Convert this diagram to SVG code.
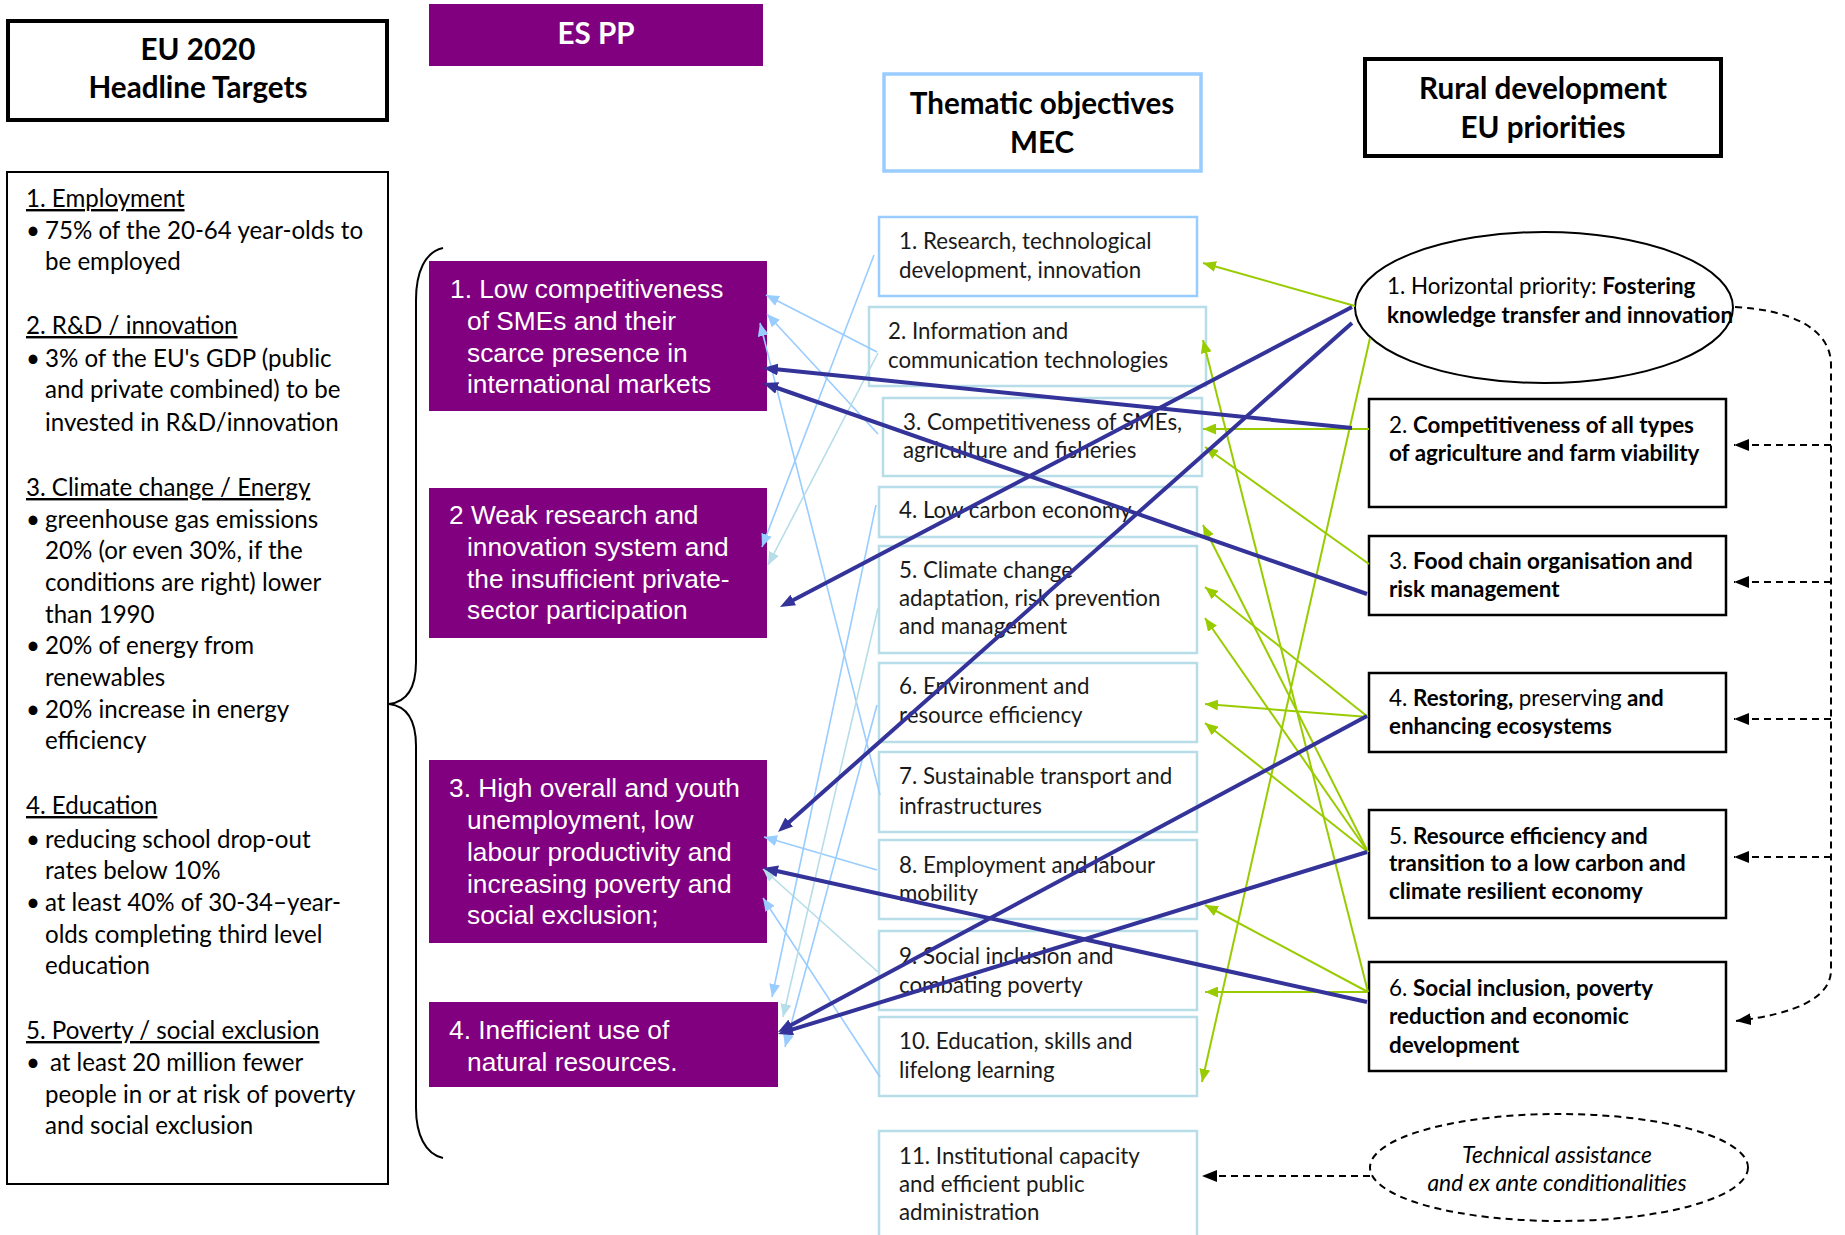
<svg xmlns="http://www.w3.org/2000/svg" width="1845" height="1235" viewBox="0 0 1845 1235">
<style>
.hdr{font-family:Lato,"Liberation Sans",sans-serif;font-weight:bold;font-size:29.6px;text-anchor:middle;fill:#000}
.tgt{font-family:Lato,"Liberation Sans",sans-serif;font-size:24.1px;fill:#000}
.u{text-decoration:underline}
.pp{font-family:"Liberation Sans",Arial,sans-serif;font-size:26.3px;fill:#fff}
.to{font-family:Lato,"Liberation Sans",sans-serif;font-size:22.3px;fill:#1a1a1a}
.rd{font-family:Lato,"Liberation Sans",sans-serif;font-size:22.4px;fill:#000}
.b{font-weight:bold}
.ta{font-family:Lato,"Liberation Sans",sans-serif;font-size:22.8px;font-style:italic;text-anchor:middle;fill:#000}
.purple{fill:#800080}
.toA{fill:#fff;stroke:#99CCFF;stroke-width:2.5}
.toB{fill:#fff;stroke:#B7DDE8;stroke-width:2.5}
.rdbox{fill:#fff;stroke:#000;stroke-width:2.5}
.lb{stroke:#99CCFF;stroke-width:1.6;fill:none;marker-end:url(#mLB)}
.tl{stroke:#B7DDE8;stroke-width:1.6;fill:none;marker-end:url(#mTL)}
.db{stroke:#333399;stroke-width:4;fill:none;marker-end:url(#mDB)}
.gr{stroke:#99CC00;stroke-width:2;fill:none;marker-end:url(#mGR)}
.dash{stroke:#000;stroke-width:2;fill:none;stroke-dasharray:7 5}
.dasharr{stroke:#000;stroke-width:2;fill:none;stroke-dasharray:7 5;marker-end:url(#mBK)}
</style>
<defs>
<marker id="mDB" viewBox="0 0 15 12" refX="9" refY="6" markerWidth="15" markerHeight="12" markerUnits="userSpaceOnUse" orient="auto"><path d="M0,0 L15,6 L0,12 z" fill="#333399"/></marker>
<marker id="mGR" viewBox="0 0 13 11" refX="13" refY="5.5" markerWidth="13" markerHeight="11" markerUnits="userSpaceOnUse" orient="auto"><path d="M0,0 L13,5.5 L0,11 z" fill="#99CC00"/></marker>
<marker id="mLB" viewBox="0 0 13 11" refX="13" refY="5.5" markerWidth="13" markerHeight="11" markerUnits="userSpaceOnUse" orient="auto"><path d="M0,0 L13,5.5 L0,11 z" fill="#99CCFF"/></marker>
<marker id="mTL" viewBox="0 0 13 11" refX="13" refY="5.5" markerWidth="13" markerHeight="11" markerUnits="userSpaceOnUse" orient="auto"><path d="M0,0 L13,5.5 L0,11 z" fill="#B7DDE8"/></marker>
<marker id="mBK" viewBox="0 0 15 12" refX="15" refY="6" markerWidth="15" markerHeight="12" markerUnits="userSpaceOnUse" orient="auto"><path d="M0,0 L15,6 L0,12 z" fill="#000"/></marker>
</defs>
<rect width="1845" height="1235" fill="#fff"/>

<!-- Left column -->
<g id="eu2020-header">
<rect x="8" y="21" width="379" height="99" fill="#fff" stroke="#000" stroke-width="4"/>
<text class="hdr" x="198" y="60">EU 2020</text>
<text class="hdr" x="198" y="98">Headline Targets</text>
</g>
<g id="eu2020-targets">
<rect x="7" y="172" width="381" height="1012" fill="#fff" stroke="#000" stroke-width="2"/>
<text class="tgt u" x="26" y="207">1. Employment</text>
<text class="tgt" x="26" y="239">•</text><text class="tgt" x="45" y="239">75% of the 20-64 year-olds to</text>
<text class="tgt" x="45" y="270">be employed</text>
<text class="tgt u" x="26" y="334">2. R&amp;D / innovation</text>
<text class="tgt" x="26" y="367">•</text><text class="tgt" x="45" y="367">3% of the EU's GDP (public</text>
<text class="tgt" x="45" y="398">and private combined) to be</text>
<text class="tgt" x="45" y="431">invested in R&amp;D/innovation</text>
<text class="tgt u" x="26" y="496">3. Climate change / Energy</text>
<text class="tgt" x="26" y="528">•</text><text class="tgt" x="45" y="528">greenhouse gas emissions</text>
<text class="tgt" x="45" y="559">20% (or even 30%, if the</text>
<text class="tgt" x="45" y="591">conditions are right) lower</text>
<text class="tgt" x="45" y="623">than 1990</text>
<text class="tgt" x="26" y="654">•</text><text class="tgt" x="45" y="654">20% of energy from</text>
<text class="tgt" x="45" y="686">renewables</text>
<text class="tgt" x="26" y="718">•</text><text class="tgt" x="45" y="718">20% increase in energy</text>
<text class="tgt" x="45" y="749">efficiency</text>
<text class="tgt u" x="26" y="814">4. Education</text>
<text class="tgt" x="26" y="848">•</text><text class="tgt" x="45" y="848">reducing school drop-out</text>
<text class="tgt" x="45" y="879">rates below 10%</text>
<text class="tgt" x="26" y="911">•</text><text class="tgt" x="45" y="911">at least 40% of 30-34–year-</text>
<text class="tgt" x="45" y="943">olds completing third level</text>
<text class="tgt" x="45" y="974">education</text>
<text class="tgt u" x="26" y="1039">5. Poverty / social exclusion</text>
<text class="tgt" x="26" y="1071">•</text><text class="tgt" x="50" y="1071">at least 20 million fewer</text>
<text class="tgt" x="45" y="1103">people in or at risk of poverty</text>
<text class="tgt" x="45" y="1134">and social exclusion</text>
</g>
<g id="brace">
<path d="M443,248 C425,252 416,272 416,300 L416,662 C416,690 406,702 389,704 C406,706 416,718 416,746 L416,1108 C416,1134 425,1154 443,1158" fill="none" stroke="#000" stroke-width="2"/>
</g>

<!-- ES PP column -->
<g id="espp-header">
<rect class="purple" x="429" y="4" width="334" height="62"/>
<text class="hdr" x="596" y="44" style="fill:#fff">ES PP</text>
</g>
<g id="espp-1">
<rect class="purple" x="429" y="261" width="338" height="150"/>
<text class="pp" x="450" y="298">1. Low competitiveness</text>
<text class="pp" x="467" y="330">of SMEs and their</text>
<text class="pp" x="467" y="362">scarce presence in</text>
<text class="pp" x="467" y="393">international markets</text>
</g>
<g id="espp-2">
<rect class="purple" x="429" y="488" width="338" height="150"/>
<text class="pp" x="449" y="524">2 Weak research and</text>
<text class="pp" x="467" y="556">innovation system and</text>
<text class="pp" x="467" y="588">the insufficient private-</text>
<text class="pp" x="467" y="619">sector participation</text>
</g>
<g id="espp-3">
<rect class="purple" x="429" y="760" width="338" height="183"/>
<text class="pp" x="449" y="797">3. High overall and youth</text>
<text class="pp" x="467" y="829">unemployment, low</text>
<text class="pp" x="467" y="861">labour productivity and</text>
<text class="pp" x="467" y="893">increasing poverty and</text>
<text class="pp" x="467" y="924">social exclusion;</text>
</g>
<g id="espp-4">
<rect class="purple" x="429" y="1002" width="349" height="85"/>
<text class="pp" x="449" y="1039">4. Inefficient use of</text>
<text class="pp" x="467" y="1071">natural resources.</text>
</g>

<!-- Thematic objectives -->
<g id="to-header">
<rect x="884" y="74" width="317" height="97" fill="#fff" stroke="#99CCFF" stroke-width="3.5"/>
<text class="hdr" x="1042" y="114">Thematic objectives</text>
<text class="hdr" x="1042" y="153">MEC</text>
</g>
<g id="to-1"><rect class="toA" x="879" y="217" width="318" height="79"/>
<text class="to" x="899" y="249">1. Research, technological</text><text class="to" x="899" y="278">development, innovation</text></g>
<g id="to-2"><rect class="toB" x="869" y="307" width="337" height="79"/>
<text class="to" x="888" y="339">2. Information and</text><text class="to" x="888" y="368">communication technologies</text></g>
<g id="to-3"><rect class="toB" x="883" y="398" width="319" height="78"/>
<text class="to" x="903" y="430">3. Competitiveness of SMEs,</text><text class="to" x="903" y="458">agriculture and fisheries</text></g>
<g id="to-4"><rect class="toB" x="879" y="487" width="318" height="50"/>
<text class="to" x="899" y="518">4. Low carbon economy</text></g>
<g id="to-5"><rect class="toB" x="879" y="546" width="318" height="107"/>
<text class="to" x="899" y="578">5. Climate change</text><text class="to" x="899" y="606">adaptation, risk prevention</text><text class="to" x="899" y="634">and management</text></g>
<g id="to-6"><rect class="toB" x="879" y="663" width="318" height="79"/>
<text class="to" x="899" y="694">6. Environment and</text><text class="to" x="899" y="723">resource efficiency</text></g>
<g id="to-7"><rect class="toB" x="879" y="752" width="318" height="80"/>
<text class="to" x="899" y="784">7. Sustainable transport and</text><text class="to" x="899" y="814">infrastructures</text></g>
<g id="to-8"><rect class="toB" x="879" y="840" width="318" height="79"/>
<text class="to" x="899" y="873">8. Employment and labour</text><text class="to" x="899" y="901">mobility</text></g>
<g id="to-9"><rect class="toB" x="879" y="931" width="318" height="79"/>
<text class="to" x="899" y="964">9. Social inclusion and</text><text class="to" x="899" y="993">combating poverty</text></g>
<g id="to-10"><rect class="toB" x="879" y="1017" width="318" height="79"/>
<text class="to" x="899" y="1049">10. Education, skills and</text><text class="to" x="899" y="1078">lifelong learning</text></g>
<g id="to-11"><rect class="toB" x="879" y="1131" width="318" height="130"/>
<text class="to" x="899" y="1164">11. Institutional capacity</text><text class="to" x="899" y="1192">and efficient public</text><text class="to" x="899" y="1220">administration</text></g>

<!-- Rural development -->
<g id="rd-header">
<rect x="1365" y="59" width="356" height="97" fill="#fff" stroke="#000" stroke-width="4"/>
<text class="hdr" x="1543" y="99">Rural development</text>
<text class="hdr" x="1543" y="138">EU priorities</text>
</g>
<g id="rd-1">
<ellipse cx="1544" cy="307.5" rx="189" ry="75.5" fill="#fff" stroke="#000" stroke-width="2"/>
<text class="rd" x="1387" y="294">1. Horizontal priority: <tspan class="b">Fostering</tspan></text>
<text class="rd b" x="1387" y="323">knowledge transfer and innovation</text>
</g>
<g id="rd-2"><rect class="rdbox" x="1369" y="399" width="357" height="108"/>
<text class="rd" x="1389" y="433">2. <tspan class="b">Competitiveness of all types</tspan></text><text class="rd b" x="1389" y="461">of agriculture and farm viability</text></g>
<g id="rd-3"><rect class="rdbox" x="1369" y="536" width="357" height="79"/>
<text class="rd" x="1389" y="569">3. <tspan class="b">Food chain organisation and</tspan></text><text class="rd b" x="1389" y="597">risk management</text></g>
<g id="rd-4"><rect class="rdbox" x="1369" y="673" width="357" height="79"/>
<text class="rd" x="1389" y="706">4. <tspan class="b">Restoring, </tspan>preserving<tspan class="b"> and</tspan></text><text class="rd b" x="1389" y="734">enhancing ecosystems</text></g>
<g id="rd-5"><rect class="rdbox" x="1369" y="810" width="357" height="108"/>
<text class="rd" x="1389" y="844">5. <tspan class="b">Resource efficiency and</tspan></text><text class="rd b" x="1389" y="871">transition to a low carbon and</text><text class="rd b" x="1389" y="899">climate resilient economy</text></g>
<g id="rd-6"><rect class="rdbox" x="1369" y="962" width="357" height="109"/>
<text class="rd" x="1389" y="996">6. <tspan class="b">Social inclusion, poverty</tspan></text><text class="rd b" x="1389" y="1024">reduction and economic</text><text class="rd b" x="1389" y="1053">development</text></g>
<g id="tech-assist">
<ellipse class="dash" cx="1559" cy="1167.5" rx="189" ry="53.5"/>
<text class="ta" x="1557" y="1163">Technical assistance</text>
<text class="ta" x="1557" y="1191">and ex ante conditionalities</text>
</g>

<!-- Connectors -->
<g id="connectors">
<line class="lb" x1="877" y1="352" x2="766" y2="295"/>
<line class="lb" x1="878" y1="434" x2="767" y2="314"/>
<line class="lb" x1="880" y1="795" x2="760" y2="323"/>
<line class="lb" x1="874" y1="255" x2="762" y2="547"/>
<line class="tl" x1="878" y1="353" x2="768" y2="565"/>
<line class="lb" x1="877" y1="870" x2="764" y2="837"/>
<line class="tl" x1="878" y1="972" x2="763" y2="869"/>
<line class="lb" x1="880" y1="1077" x2="763" y2="898"/>
<line class="lb" x1="876" y1="505" x2="772" y2="997"/>
<line class="tl" x1="878" y1="608" x2="783" y2="1017"/>
<line class="lb" x1="877" y1="705" x2="785" y2="1047"/>
<line class="gr" x1="1355" y1="306" x2="1203" y2="263"/>
<line class="gr" x1="1370" y1="338" x2="1202" y2="1082"/>
<line class="gr" x1="1369" y1="429" x2="1203" y2="429"/>
<line class="gr" x1="1369" y1="564" x2="1205" y2="447"/>
<line class="gr" x1="1368" y1="992" x2="1203" y2="340"/>
<line class="gr" x1="1368" y1="852" x2="1203" y2="525"/>
<line class="gr" x1="1368" y1="717" x2="1205" y2="587"/>
<line class="gr" x1="1368" y1="852" x2="1205" y2="618"/>
<line class="gr" x1="1368" y1="717" x2="1205" y2="704"/>
<line class="gr" x1="1368" y1="852" x2="1205" y2="723"/>
<line class="gr" x1="1368" y1="992" x2="1205" y2="905"/>
<line class="gr" x1="1368" y1="992" x2="1205" y2="992"/>
<line class="db" x1="1352" y1="428" x2="769" y2="368.6"/>
<line class="db" x1="1367" y1="594" x2="768.7" y2="385"/>
<line class="db" x1="1352" y1="307" x2="785.3" y2="604.2"/>
<line class="db" x1="1352" y1="323" x2="782.5" y2="828"/>
<line class="db" x1="1367" y1="1002" x2="768.9" y2="869.3"/>
<line class="db" x1="1367" y1="716" x2="783.3" y2="1029.2"/>
<line class="db" x1="1367" y1="852" x2="783.7" y2="1032.2"/>
<path class="dasharr" d="M1735,307 C1790,310 1831,328 1831,365 L1831,970 C1831,998 1795,1014 1736,1021"/>
<line class="dasharr" x1="1831" y1="445" x2="1734" y2="445"/>
<line class="dasharr" x1="1831" y1="582" x2="1734" y2="582"/>
<line class="dasharr" x1="1831" y1="719" x2="1734" y2="719"/>
<line class="dasharr" x1="1831" y1="857" x2="1734" y2="857"/>
<line class="dasharr" x1="1370" y1="1176" x2="1202" y2="1176"/>
</g>
</svg>
